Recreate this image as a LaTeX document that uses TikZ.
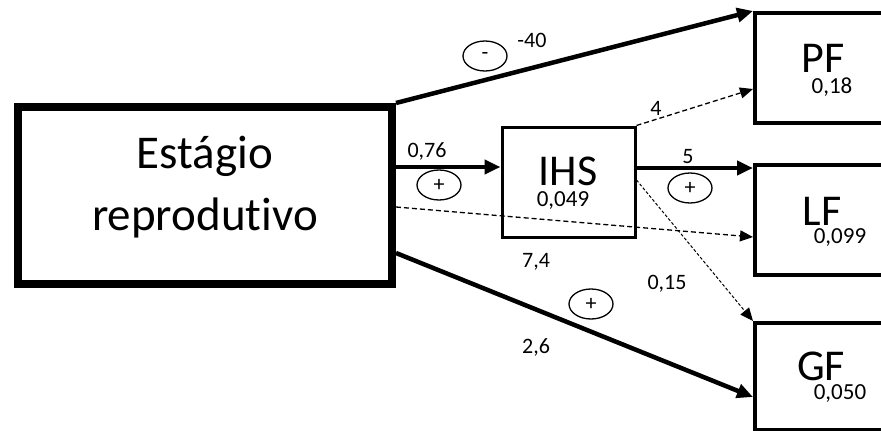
\documentclass[tikz,border=0pt]{standalone}
\usepackage{fontspec}
\setmainfont{Carlito}[Ligatures=NoCommon]
\usetikzlibrary{shapes.geometric, arrows.meta, calc}
\tikzset{
  mainbox/.style={rectangle, draw=black, line width=8pt,
                  minimum width=374pt, minimum height=177pt, inner sep=0pt},
  midbox/.style={rectangle, draw=black, line width=3pt,
                 minimum width=133pt, minimum height=110pt, inner sep=0pt},
  outbox/.style={rectangle, draw=black, line width=4pt,
                 minimum width=150pt, minimum height=110pt, inner sep=0pt},
  mainT/.style={font=\fontsize{47}{56}\selectfont, inner sep=0pt, anchor=base},
  bigT/.style={font=\fontsize{44}{53}\selectfont, inner sep=0pt, anchor=base},
  valT/.style={font=\fontsize{23}{28}\selectfont, inner sep=0pt, anchor=base},
  coefT/.style={font=\fontsize{22}{26}\selectfont, inner sep=0pt, anchor=base},
  signE/.style={ellipse, draw=black, line width=1.3pt, minimum width=44pt,
                minimum height=30pt, inner sep=0pt,
                font=\fontsize{22}{26}\selectfont},
  pathT/.style={line width=4.5pt, -{Triangle[length=16pt,width=14pt]}},
  pathD/.style={line width=1.3pt, dash pattern=on 5pt off 3pt,
                -{Triangle[length=13pt,width=11pt]}},
  pathF/.style={line width=1pt, dash pattern=on 3pt off 2pt,
                -{Triangle[length=13pt,width=11pt]}},
}

\begin{document}
\begin{tikzpicture}[x=1pt, y=-1pt]
    \useasboundingbox (0,0) rectangle (881,431);
    \clip (0,0) rectangle (881,431);

    %% boxes
    \node[mainbox] (main) at (205,195.5) {};
    \node[midbox] (ihs) at (568.5,182) {};
    \node[outbox] (pf) at (830,68) {};
    \node[outbox] (lf) at (830,220) {};
    \node[outbox, minimum height=107pt] (gf) at (830,376.5) {};

    %% box texts
    \node[mainT] (mainA) at (205,168) {Estágio};
    \node[mainT] (mainB) at (205,230) {reprodutivo};
    \node[bigT] (ihsT) at (568,185) {IHS};
    \node[valT] (ihsV) at (563,206) {0,049};
    \node[bigT] (pfT) at (823,72) {PF};
    \node[valT] (pfV) at (832,93) {0,18};
    \node[bigT] (lfT) at (822,225) {LF};
    \node[valT] (lfV) at (840,243) {0,099};
    \node[bigT] (gfT) at (821,380) {GF};
    \node[valT] (gfV) at (840,399) {0,050};

    %% helper points
    \coordinate (ihsin) at ([yshift=15pt]ihs.west);
    \coordinate (ihsout) at ([yshift=14pt]ihs.east);

    %% paths
    \draw[pathT] (main.north east) -- (pf.north west);
    \draw[pathT] (main.east |- ihsin) -- (ihsin);
    \draw[pathT] ([yshift=-57.5pt]main.east) -- ([yshift=-20.5pt]gf.west);
    \draw[pathT] (ihsout) -- (ihsout -| lf.west);
    \draw[pathD] ([yshift=-11.5pt]main.east) -- ([yshift=-17pt]lf.west);
    \draw[pathD] (ihs.north east) -- ([yshift=-21pt]pf.west);
    \draw[pathF] ([yshift=2pt]ihs.east) -- (gf.north west);

    %% coefficients
    \node[coefT] (cPF) at (532,47) {-40};
    \node[coefT] (cIHS) at (427,157) {0,76};
    \node[coefT] (cLF) at (536,267) {7,4};
    \node[coefT] (cGF) at (536,353) {2,6};
    \node[coefT] (dPF) at (656,115) {4};
    \node[coefT] (dLF) at (688,163) {5};
    \node[coefT] (dGF) at (667,289) {0,15};

    %% signs
    \node[signE] (sPF) at (485,56) {-};
    \node[signE] (sIHS) at (439,185) {+};
    \node[signE] (sLF) at (690,188) {+};
    \node[signE] (sGF) at (591,304) {+};
\end{tikzpicture}
\end{document}
